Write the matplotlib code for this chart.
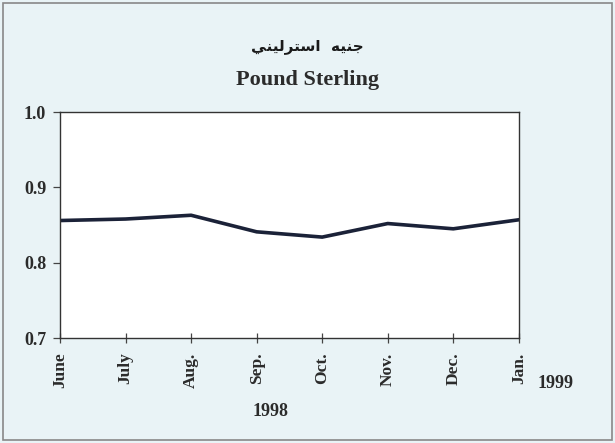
import matplotlib
matplotlib.use("Agg")
import matplotlib.pyplot as plt
from matplotlib.patches import Rectangle

months = ["June", "July", "Aug.", "Sep.", "Oct.", "Nov.", "Dec.", "Jan."]
values = [0.856, 0.858, 0.863, 0.841, 0.834, 0.852, 0.845, 0.857]
yticks = [0.7, 0.8, 0.9, 1.0]
title_ar_logical = "جنيه استرليني"
# visually ordered, pre-shaped presentation forms of the Arabic title
title_ar = "\uFEF2\uFEE8\uFEF4\uFEDF\uFEAE\uFE98\uFEB3\uFE8D  \uFEEA\uFEF4\uFEE8\uFE9F"
title_en = "Pound Sterling"
years = ["1998", "1999"]

bg = "#e9f3f6"
serif = ["Liberation Serif", "DejaVu Serif"]
tc = "#2b2b2b"

fig = plt.figure(figsize=(6.15, 4.43), dpi=100, facecolor=bg)
ax = fig.add_axes([0.0976, 0.237, 0.746, 0.510])
ax.set_facecolor("white")

x = list(range(len(months)))
ax.plot(x, values, color="#1b2238", lw=2.6, solid_joinstyle="round")

ax.set_xlim(0, len(months) - 1)
ax.set_ylim(0.7, 1.0)
ax.set_yticks(yticks)
ax.set_yticklabels([f"{v:.1f}" for v in yticks], fontfamily=serif,
                   fontweight="bold", fontsize=13, color=tc)
ax.set_xticks(x)
ax.set_xticklabels(months, rotation=90, fontfamily=serif, fontweight="bold",
                   fontsize=12.5, color=tc)
ax.tick_params(axis="y", direction="out", length=5, width=0.9, color="#444444", pad=5)
ax.tick_params(axis="x", direction="inout", length=7, width=0.9, color="#444444", pad=7)
for s in ax.spines.values():
    s.set_color("#333333")
    s.set_linewidth(1.0)

fig.text(0.5, 1 - 46 / 443, title_ar, ha="center", va="center",
         fontfamily="DejaVu Sans", fontweight="bold", fontsize=11, color="#1a1a1a")
fig.text(0.5, 1 - 80 / 443, title_en, ha="center", va="center",
         fontfamily=serif, fontweight="bold", fontsize=16, color=tc)
fig.text(271 / 615, 1 - 411 / 443, years[0], ha="center", va="center",
         fontfamily=serif, fontweight="bold", fontsize=13, color=tc)
fig.text(556 / 615, 1 - 383 / 443, years[1], ha="center", va="center",
         fontfamily=serif, fontweight="bold", fontsize=13, color=tc)

fig.patches.append(Rectangle((3 / 615, 3 / 443), 609 / 615, 437 / 443,
                             transform=fig.transFigure, fill=False,
                             edgecolor="#888888", lw=1.2))

fig.savefig("out.png", dpi=100, facecolor=bg)
